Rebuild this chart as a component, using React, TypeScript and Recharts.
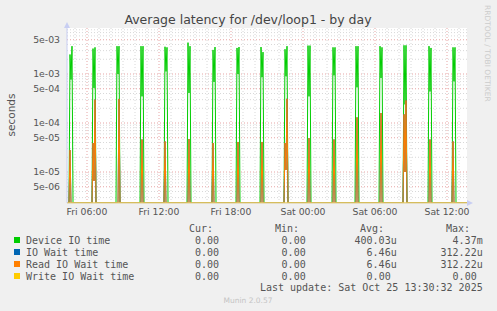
import { LineChart, Line, XAxis, YAxis, ReferenceLine, CartesianGrid } from 'recharts'

// one burst of disk activity roughly every two hours, 5 minute samples
// times are minutes after Fri 00:00
const burstStart = [275, 390, 510, 630, 750, 865, 990, 1110, 1230, 1350, 1465, 1590, 1705, 1825, 1945, 2070, 2190]
const devicePeak1 = [2.5e-3, 3.3e-3, 3.7e-3, 3.7e-3, 3.6e-3, 4.37e-3, 3.1e-3, 3.4e-3, 3.55e-3, 3.2e-3, 3.8e-3, 3.5e-3, 3.7e-3, 3.7e-3, 3.85e-3, 3.7e-3, 3.5e-3]
const deviceDip = [7.7e-4, 5.2e-4, 1.0e-3, 3.5e-4, 1.13e-3, 4.1e-4, 6.9e-4, 1.0e-3, 8.6e-4, 9.0e-4, 3.5e-4, 9.4e-4, 5.35e-4, 8.3e-4, 2.4e-4, 4.4e-4, 7.1e-4]
const devicePeak2 = [3.7e-3, 3.5e-3, 3.7e-3, 3.7e-3, 3.5e-3, 3.7e-3, 3.55e-3, 3.55e-3, 2.8e-3, 3.7e-3, 3.8e-3, 3.5e-3, 3.7e-3, 3.5e-3, 3.85e-3, 3.4e-3, 3.5e-3]
const readFirst = [2.8e-5, 3.9e-5, 0, 0, 4.2e-5, 0, 3.9e-5, 0, 0, 3.9e-5, 0, 0, 0, 0, 1.5e-4, 0, 4.2e-5]
const readMid = [0, 6.6e-6, 0, 4.6e-5, 0, 4.7e-5, 0, 4.1e-5, 4.1e-5, 1.1e-5, 4.9e-5, 4.6e-5, 1.3e-4, 1.6e-4, 1.0e-5, 4.6e-5, 0]
const readSecond = [0, 3.0e-4, 3.1e-4, 0, 0, 0, 0, 0, 0, 3.12e-4, 0, 0, 0, 0, 2.9e-4, 0, 0]

const xTicks = [360, 720, 1080, 1440, 1800, 2160]
const xTickLabels = ['Fri 06:00', 'Fri 12:00', 'Fri 18:00', 'Sat 00:00', 'Sat 06:00', 'Sat 12:00']
const yTicks = [5e-6, 1e-5, 5e-5, 1e-4, 5e-4, 1e-3, 5e-3]
const yTickLabels = ['5e-06', '1e-05', '5e-05', '1e-04', '5e-04', '1e-03', '5e-03']

const seriesNames = ['Device IO time', 'IO Wait time', 'Read IO Wait time', 'Write IO Wait time']
const seriesColors = ['#00CC00', '#0066B3', '#FF8000', '#FFCC00']
const curValues = ['0.00', '0.00', '0.00', '0.00']
const minValues = ['0.00', '0.00', '0.00', '0.00']
const avgValues = ['400.03u', '6.46u', '6.46u', '0.00']
const maxValues = ['4.37m', '312.22u', '312.22u', '0.00']

const T_START = 260
const T_END = 2260
const Y_MIN = 2.33e-6
const Y_MAX = 8.69e-3

type Row = { t: number; device: number; ioWait: number; read: number; write: number }
const zeroRow = (t: number): Row => ({ t, device: 0, ioWait: 0, read: 0, write: 0 })
const sample = (t: number, device: number, read: number): Row => ({ t, device, ioWait: read, read, write: 0 })

const rows: Row[] = [zeroRow(T_START)]
burstStart.forEach((s, i) => {
  rows.push(zeroRow(s - 5))
  rows.push(sample(s, devicePeak1[i], readFirst[i]))
  rows.push(sample(s + 5, deviceDip[i], readMid[i]))
  rows.push(sample(s + 10, devicePeak2[i], readSecond[i]))
  rows.push(zeroRow(s + 15))
})
rows.push(zeroRow(T_END))

// zero can't sit on a log axis, rrdtool pins it to the bottom edge
const onLog = (key: keyof Row) => (d: Row) => Math.max(d[key], Y_MIN)

// grid lines
const minorY: number[] = []
for (let e = -6; e <= -3; e++) {
  for (let k = 1; k <= 9; k++) {
    const v = k * Math.pow(10, e)
    if (v > Y_MIN && v < Y_MAX && !yTicks.some((t) => Math.abs(t - v) / v < 1e-6)) minorY.push(v)
  }
}
const minorX: number[] = []
for (let t = 300; t < T_END; t += 60) if (!xTicks.includes(t)) minorX.push(t)

const FONT = '"DejaVu Sans", sans-serif'
const MONO = '"DejaVu Sans Mono", monospace'

export default function App() {
  const legendTop = 228
  const rowGap = 12
  const cols = [225, 311.7, 396.7, 482.7]
  const cell = (v: string, colEnd: number, y: number, key: string) => (
    <text key={key} x={/[a-z]$/.test(v) ? colEnd : colEnd - 6} y={y} textAnchor="end">
      {v}
    </text>
  )

  return (
    <div style={{ position: 'absolute', left: 0, top: 0, width: 497, height: 311, background: '#F0F0F0' }}>
      <LineChart width={497} height={225} data={rows} margin={{ top: 28, right: 30, bottom: 0, left: 0 }}>
        <CartesianGrid horizontal={false} vertical={false} fill="#FFFFFF" />
        {minorY.map((v) => (
          <ReferenceLine key={'my' + v} y={v} stroke="#D8D8D8" strokeDasharray="1 2" />
        ))}
        {minorX.map((v) => (
          <ReferenceLine key={'mx' + v} x={v} stroke="#D8D8D8" strokeDasharray="1 2" />
        ))}
        {yTicks.map((v) => (
          <ReferenceLine key={'Y' + v} y={v} stroke="#E6A5A5" strokeDasharray="1 2" />
        ))}
        {xTicks.map((v) => (
          <ReferenceLine key={'X' + v} x={v} stroke="#E6A5A5" strokeDasharray="1 2" />
        ))}
        <XAxis
          dataKey="t"
          type="number"
          domain={[T_START, T_END]}
          ticks={xTicks}
          interval={0}
          tickFormatter={(v) => xTickLabels[xTicks.indexOf(v)]}
          height={22}
          tickSize={0}
          tickMargin={5}
          axisLine={{ stroke: '#DCCB94' }}
          tick={{ fill: '#555', fontSize: 9.3, fontFamily: FONT }}
          allowDataOverflow
        />
        <YAxis
          scale="log"
          type="number"
          domain={[Y_MIN, Y_MAX]}
          ticks={yTicks}
          interval={0}
          tickFormatter={(v) => yTickLabels[yTicks.indexOf(v)]}
          width={67}
          tickSize={0}
          tickMargin={7}
          axisLine={{ stroke: '#C8CEF2' }}
          tick={{ fill: '#555', fontSize: 9.3, fontFamily: FONT }}
          allowDataOverflow
        />
        <Line dataKey={onLog('device')} name={seriesNames[0]} stroke={seriesColors[0]} strokeWidth={1} dot={false} isAnimationActive={false} />
        <Line dataKey={onLog('ioWait')} name={seriesNames[1]} stroke={seriesColors[1]} strokeWidth={1} dot={false} isAnimationActive={false} />
        <Line dataKey={onLog('read')} name={seriesNames[2]} stroke={seriesColors[2]} strokeWidth={1} dot={false} isAnimationActive={false} />
        <Line dataKey={onLog('write')} name={seriesNames[3]} stroke={seriesColors[3]} strokeWidth={1} dot={false} isAnimationActive={false} />
      </LineChart>

      <svg width={497} height={311} style={{ position: 'absolute', left: 0, top: 0, pointerEvents: 'none' }}>
        <polygon points="64,28 70,28 67,22" fill="#C8CEF2" />
        <polygon points="467,200 467,206 473,203" fill="#C8CEF2" />
        <text x={248} y={24} textAnchor="middle" fontFamily={FONT} fontSize={12.5} fill="#444">
          Average latency for /dev/loop1 - by day
        </text>
        <text x={15} y={115} textAnchor="middle" fontFamily={FONT} fontSize={10.5} fill="#555" transform="rotate(-90, 15, 115)">
          seconds
        </text>
        <text x={485} y={5} fontFamily={FONT} fontSize={7.5} fill="#CCC" transform="rotate(90, 485, 5)">
          RRDTOOL / TOBI OETIKER
        </text>

        <g fontFamily={MONO} fontSize={10} fill="#555">
          <text x={213} y={legendTop + 3.5} textAnchor="end">Cur:</text>
          <text x={299} y={legendTop + 3.5} textAnchor="end">Min:</text>
          <text x={384} y={legendTop + 3.5} textAnchor="end">Avg:</text>
          <text x={470} y={legendTop + 3.5} textAnchor="end">Max:</text>
          {seriesNames.map((name, i) => {
            const cy = legendTop + rowGap * (i + 1)
            const y = cy + 3.5
            return (
              <g key={name}>
                <rect x={14} y={cy - 3} width={6} height={6} fill={seriesColors[i]} />
                <text x={26} y={y}>{name}</text>
                {cell(curValues[i], cols[0], y, 'c')}
                {cell(minValues[i], cols[1], y, 'n')}
                {cell(avgValues[i], cols[2], y, 'a')}
                {cell(maxValues[i], cols[3], y, 'x')}
              </g>
            )
          })}
          <text x={482.7} y={legendTop + rowGap * 5 - 0.5 + 3.5} textAnchor="end">
            Last update: Sat Oct 25 13:30:32 2025
          </text>
        </g>
        <text x={248} y={302.5} textAnchor="middle" fontFamily={FONT} fontSize={7.5} fill="#C4C4C4">
          Munin 2.0.57
        </text>
      </svg>
    </div>
  )
}
